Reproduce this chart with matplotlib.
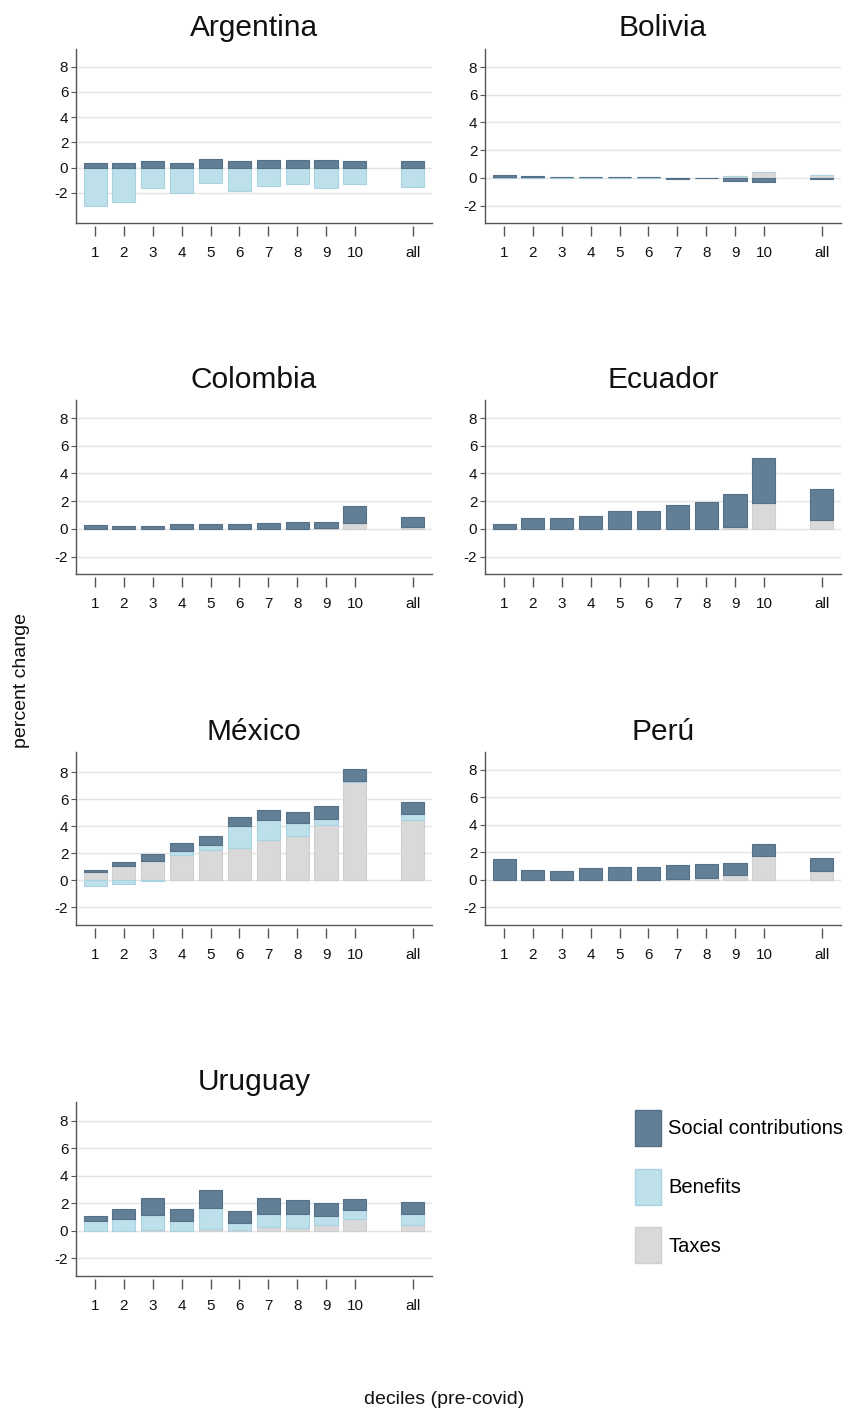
import matplotlib
matplotlib.use("Agg")
import matplotlib.pyplot as plt
from matplotlib.patches import Patch
import numpy as np

plt.rcParams['font.family'] = ['Liberation Sans', 'DejaVu Sans']
plt.rcParams['axes.unicode_minus'] = False

categories = ["1", "2", "3", "4", "5", "6", "7", "8", "9", "10", "all"]
series_names = ["Social contributions", "Benefits", "Taxes"]

# values per country: taxes, benefits, social contributions (percent change)
arg_taxes = [0, 0, 0, 0, 0, 0, 0, 0, 0, 0, 0]
arg_benefits = [-3.04, -2.72, -1.6, -2.0, -1.25, -1.87, -1.44, -1.3, -1.6, -1.3, -1.52]
arg_social = [0.32, 0.37, 0.48, 0.37, 0.64, 0.5, 0.58, 0.56, 0.56, 0.5, 0.5]

bol_taxes = [0, 0, 0.03, 0.03, 0.03, 0.03, 0.03, 0.02, 0.12, 0.45, 0.2]
bol_benefits = [0.05, 0.06, 0.02, 0.02, 0.02, 0.02, 0, 0, 0, 0, 0]
bol_social = [0.15, 0.08, 0, 0, 0, 0, -0.08, -0.03, -0.25, -0.3, -0.1]

col_taxes = [0, 0, 0, 0, 0, 0, 0, 0, 0.05, 0.45, 0.15]
col_benefits = [0, 0, 0, 0, 0, 0, 0, 0, 0, 0, 0]
col_social = [0.28, 0.22, 0.22, 0.33, 0.38, 0.33, 0.43, 0.5, 0.45, 1.18, 0.7]

ecu_taxes = [0, 0, 0, 0, 0, 0, 0, 0, 0.15, 1.85, 0.67]
ecu_benefits = [0, 0.03, 0.03, 0.03, 0, 0, 0, 0, 0, 0, 0]
ecu_social = [0.35, 0.75, 0.75, 0.89, 1.3, 1.3, 1.7, 1.95, 2.4, 3.25, 2.18]

mex_taxes = [0.6, 1.04, 1.43, 1.85, 2.22, 2.42, 2.99, 3.28, 4.12, 7.26, 4.49]
mex_benefits = [-0.38, -0.25, -0.08, 0.32, 0.42, 1.58, 1.45, 0.94, 0.42, 0.1, 0.45]
mex_social = [0.2, 0.34, 0.52, 0.57, 0.67, 0.69, 0.77, 0.84, 0.99, 0.89, 0.84]

per_taxes = [0, 0, 0, 0, 0, 0, 0.07, 0.15, 0.34, 1.75, 0.65]
per_benefits = [0, 0, 0, 0, 0, 0, 0, 0, 0, 0, 0]
per_social = [1.54, 0.7, 0.62, 0.84, 0.96, 0.96, 1.01, 1.0, 0.91, 0.85, 0.94]

uru_taxes = [0, 0, 0.05, 0, 0.1, 0.05, 0.24, 0.22, 0.39, 0.84, 0.39]
uru_benefits = [0.7, 0.87, 1.11, 0.7, 1.56, 0.53, 0.99, 1.01, 0.69, 0.63, 0.81]
uru_social = [0.38, 0.72, 1.23, 0.84, 1.26, 0.82, 1.11, 0.96, 0.92, 0.82, 0.87]

countries = [
    ("Argentina", arg_taxes, arg_benefits, arg_social, (-4.4, 9.4)),
    ("Bolivia", bol_taxes, bol_benefits, bol_social, (-3.25, 9.3)),
    ("Colombia", col_taxes, col_benefits, col_social, (-3.25, 9.3)),
    ("Ecuador", ecu_taxes, ecu_benefits, ecu_social, (-3.25, 9.3)),
    ("México", mex_taxes, mex_benefits, mex_social, (-3.3, 9.5)),
    ("Perú", per_taxes, per_benefits, per_social, (-3.3, 9.3)),
    ("Uruguay", uru_taxes, uru_benefits, uru_social, (-3.3, 9.35)),
]

C_SOC = "#637f96"
C_BEN = "#bde0ea"
C_TAX = "#d9d9d9"
E_SOC = "#55718a"
E_BEN = "#a9d3e0"
E_TAX = "#cfcfcf"

W, H = 851, 1411
fig = plt.figure(figsize=(W / 100, H / 100), dpi=100)

# axes boxes in pixels: left, top, right, bottom
boxes = [
    (76, 49, 432, 223),
    (485, 49, 841, 223),
    (76, 400, 432, 574),
    (485, 400, 841, 574),
    (76, 752, 432, 925),
    (485, 752, 841, 925),
    (76, 1102, 432, 1276),
]

xpos = np.array([1, 2, 3, 4, 5, 6, 7, 8, 9, 10, 12], dtype=float)
bw = 0.8

for (name, taxes, ben, soc, ylim), (l, t, r, b) in zip(countries, boxes):
    ax = fig.add_axes([l / W, 1 - b / H, (r - l) / W, (b - t) / H])
    pos_base = np.zeros(len(xpos))
    neg_base = np.zeros(len(xpos))
    for vals, fc, ec in [(taxes, C_TAX, E_TAX), (ben, C_BEN, E_BEN), (soc, C_SOC, E_SOC)]:
        vals = np.array(vals, dtype=float)
        base = np.where(vals >= 0, pos_base, neg_base)
        ax.bar(xpos, vals, bottom=base, width=bw, color=fc, edgecolor=ec,
               linewidth=0.8, zorder=3)
        pos_base = pos_base + np.where(vals > 0, vals, 0)
        neg_base = neg_base + np.where(vals < 0, vals, 0)
    ax.set_xlim(0.34, 12.67)
    ax.set_ylim(*ylim)
    ax.set_yticks([-2, 0, 2, 4, 6, 8])
    ax.set_xticks(xpos)
    ax.set_xticklabels(categories)
    ax.grid(axis='y', color='#e4e4e4', linewidth=1.0, zorder=0)
    ax.set_axisbelow(True)
    for s in ['top', 'right']:
        ax.spines[s].set_visible(False)
    ax.spines['left'].set_color('#555555')
    ax.spines['left'].set_linewidth(1.0)
    ax.spines['bottom'].set_position(('outward', 2.5))
    ax.spines['bottom'].set_visible(False)
    ax.plot([0, 1], [0, 0], transform=ax.transAxes, color='#555555',
            linewidth=1.0, clip_on=False, zorder=5)
    ax.tick_params(axis='x', length=7, width=1.0, color='#555555',
                   labelsize=11, pad=7, labelcolor='#111111')
    ax.tick_params(axis='y', length=3.5, width=0.8, color='#555555',
                   labelsize=11, pad=2, labelcolor='#111111')
    ax.set_title(name, fontsize=21.5, pad=9, color='#111111')

fig.text(22 / W, 1 - 680 / H, "percent change", rotation=90, ha='center',
         va='center', fontsize=14, color='#111111')
fig.text(444 / W, 1 - 1400 / H, "deciles (pre-covid)", ha='center',
         va='center', fontsize=14, color='#111111')

handles = [Patch(facecolor=C_SOC, edgecolor=E_SOC),
           Patch(facecolor=C_BEN, edgecolor=E_BEN),
           Patch(facecolor=C_TAX, edgecolor=E_TAX)]
leg = fig.legend(handles, series_names, loc='upper left',
                 bbox_to_anchor=(617 / W, 1 - 1092 / H), frameon=False,
                 fontsize=14.5, handlelength=1.3, handleheight=2.4,
                 labelspacing=1.1, handletextpad=0.35)

fig.savefig("out.png", dpi=100)
